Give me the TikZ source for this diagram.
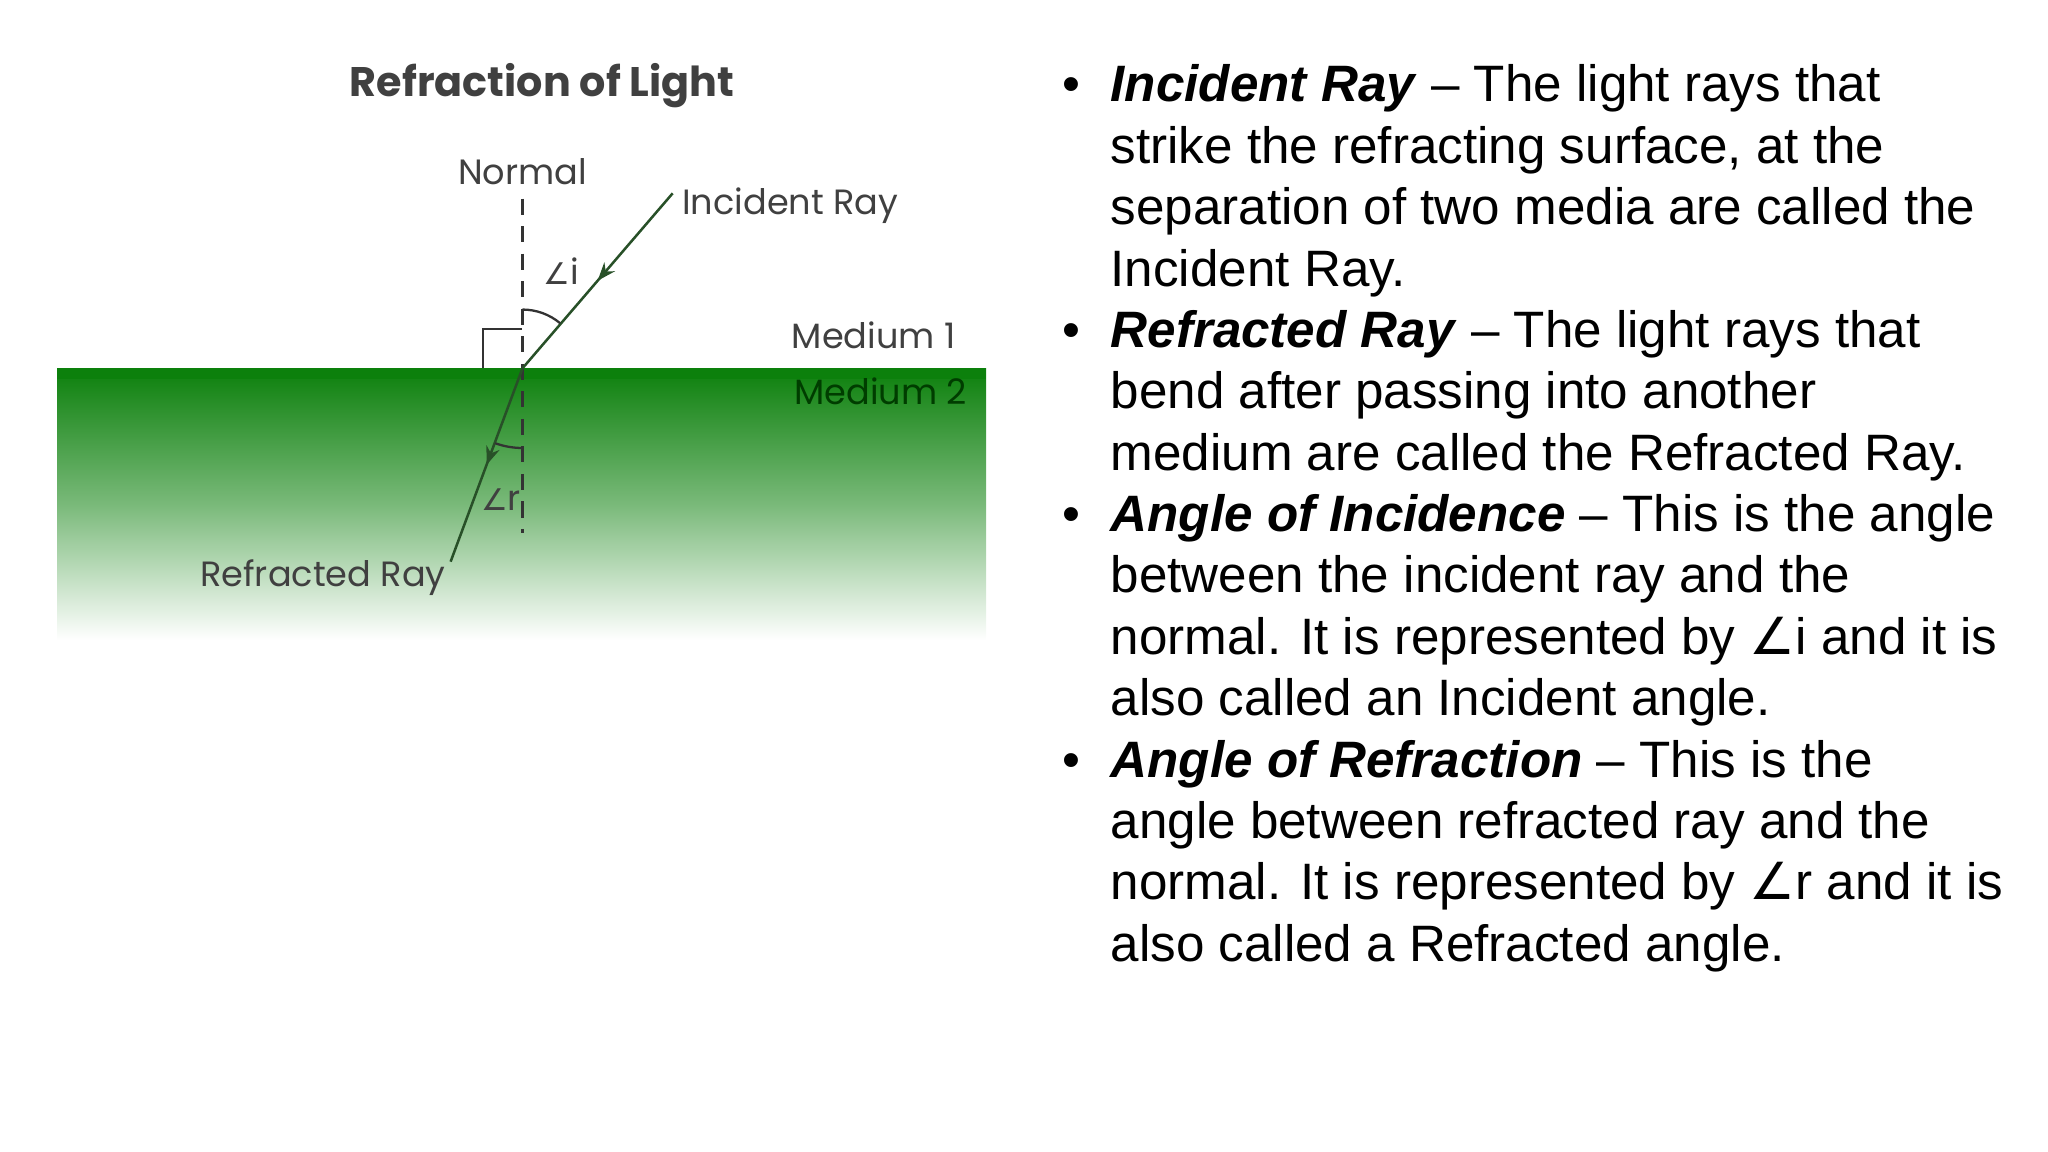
\documentclass[tikz,border=0pt]{standalone}
\usepackage{fontspec}
\setmainfont{Liberation Sans}
\newfontfamily\dfont{Poppins}
\newfontfamily\sym{DejaVu Sans}
\usetikzlibrary{arrows.meta,decorations.markings}
\definecolor{gtop}{RGB}{12,128,12}
\definecolor{ray}{RGB}{40,80,40}
\begin{document}
\begin{tikzpicture}[x=0.02cm,y=-0.02cm,
  lbl/.style={font=\dfont\fontsize{15.3}{18}\selectfont, text=black!75, inner sep=0pt},
  ln/.style={font=\fontsize{22.3}{26}\selectfont, anchor=base west, inner sep=0pt},
  bul/.style={font=\fontsize{22.3}{26}\selectfont, anchor=base, inner sep=0pt},
  rayline/.style={draw=ray, line width=1.1pt, postaction={decorate},
    decoration={markings, mark=at position 0.5 with {\arrow{Stealth[length=8pt,width=6pt]}}}}]
\useasboundingbox (0,0) rectangle (1568,882);
% medium
\shade[top color=gtop, bottom color=white, middle color=gtop!55!white] (44,282) rectangle (755,490);
\fill[gtop] (44,282) rectangle (755,290);
\coordinate (O) at (400,282);
\coordinate (nt) at (400,152);
\coordinate (nb) at (400,408);
\coordinate (ia) at (515,148);
\coordinate (rb) at (345,430);
\draw[black!80, line width=1pt, dashed, dash pattern=on 7pt off 5pt] (nt) -- (nb);
\draw[black!80, line width=1pt] (370,282) -- (370,252) -- (400,252);
\path[rayline] (ia) -- (O);
\path[rayline] (O) -- (rb);
\draw[black!80, line width=1pt] (400,237) arc[start angle=90, end angle=50, x radius=45, y radius=-45];
\draw[black!80, line width=1pt] (400,343) arc[start angle=-90, end angle=-110, x radius=61, y radius=-61];
% labels
\node[lbl, anchor=base, font=\dfont\bfseries\fontsize{18}{21}\selectfont] (title) at (415,74) {Refraction of Light};
\node[lbl, anchor=base] (normal) at (400,141) {Normal};
\node[lbl, anchor=base west] (inc) at (522,164) {Incident Ray};
\node[lbl, anchor=base west] (m1) at (606,267) {Medium 1};
\node[lbl, anchor=base west, text=black!60!green!60!black] (m2) at (608,310) {Medium 2};
\node[lbl, anchor=base west] (ref) at (153,449) {Refracted Ray};
\node[lbl, anchor=base west] (ai) at (416,218) {{\sym\fontsize{13}{15}\selectfont∠}i};
\node[lbl, anchor=base west] (ar) at (368,391) {{\sym\fontsize{13}{15}\selectfont∠}r};
% bullets
\foreach \y in {78,266,407,595} \node[bul] at (820,\y) {•};
\node[ln] (l1) at (850,78) {\textbf{\textit{Incident Ray}} – The light rays that};
\node[ln] (l2) at (850,125) {strike the refracting surface, at the};
\node[ln] (l3) at (850,172) {separation of two media are called the};
\node[ln] (l4) at (850,219) {Incident Ray.};
\node[ln] (l5) at (850,266) {\textbf{\textit{Refracted Ray}} – The light rays that};
\node[ln] (l6) at (850,313) {bend after passing into another};
\node[ln] (l7) at (850,360) {medium are called the Refracted Ray.};
\node[ln] (l8) at (850,407) {\textbf{\textit{Angle of Incidence}} – This is the angle};
\node[ln] (l9) at (850,454) {between the incident ray and the};
\node[ln] (l10) at (850,501) {normal. It is represented by {\sym∠}i and it is};
\node[ln] (l11) at (850,548) {also called an Incident angle.};
\node[ln] (l12) at (850,595) {\textbf{\textit{Angle of Refraction}} – This is the};
\node[ln] (l13) at (850,642) {angle between refracted ray and the};
\node[ln] (l14) at (850,689) {normal. It is represented by {\sym∠}r and it is};
\node[ln] (l15) at (850,736) {also called a Refracted angle.};
\end{tikzpicture}
\end{document}
